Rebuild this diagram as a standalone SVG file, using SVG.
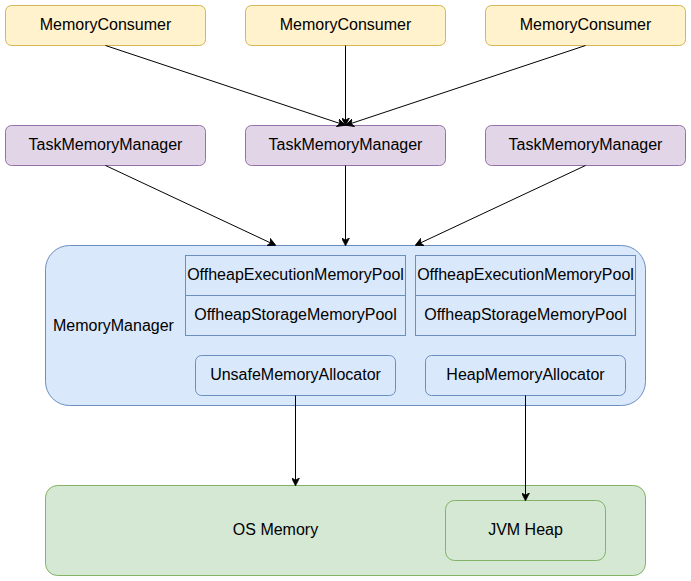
<svg xmlns="http://www.w3.org/2000/svg" width="691" height="581" viewBox="0 0 691 581">
  <style>
    text { font-family: "Liberation Sans", Arial, Helvetica, sans-serif; font-size: 16px; fill: #000; }
    .mid { text-anchor: middle; dominant-baseline: central; }
    .consumer { fill: #fff2cc; stroke: #d6b656; }
    .task { fill: #e1d5e7; stroke: #9673a6; }
    .blue { fill: #dae8fc; stroke: #6c8ebf; }
    .green { fill: #d5e8d4; stroke: #82b366; }
    .edge { fill: none; stroke: #000; stroke-width: 1; }
  </style>
  <defs>
    <marker id="arrow" viewBox="0 0 10 10" refX="9" refY="5" markerWidth="8" markerHeight="8" markerUnits="userSpaceOnUse" orient="auto">
      <path d="M0,0 L10,5 L0,10 L3,5 Z" fill="#000" stroke="#000" stroke-width="1"/>
    </marker>
  </defs>

  <rect width="691" height="581" fill="#fff"/>

  <!-- consumers -->
  <g id="consumer1"><rect class="consumer" x="5.5" y="5.5" width="200" height="40" rx="6"/><text class="mid" x="105.5" y="24.5">MemoryConsumer</text></g>
  <g id="consumer2"><rect class="consumer" x="245.5" y="5.5" width="200" height="40" rx="6"/><text class="mid" x="345.5" y="24.5">MemoryConsumer</text></g>
  <g id="consumer3"><rect class="consumer" x="485.5" y="5.5" width="200" height="40" rx="6"/><text class="mid" x="585.5" y="24.5">MemoryConsumer</text></g>

  <!-- task memory managers -->
  <g id="tmm1"><rect class="task" x="5.5" y="125.5" width="200" height="40" rx="6"/><text class="mid" x="105.5" y="144.5">TaskMemoryManager</text></g>
  <g id="tmm2"><rect class="task" x="245.5" y="125.5" width="200" height="40" rx="6"/><text class="mid" x="345.5" y="144.5">TaskMemoryManager</text></g>
  <g id="tmm3"><rect class="task" x="485.5" y="125.5" width="200" height="40" rx="6"/><text class="mid" x="585.5" y="144.5">TaskMemoryManager</text></g>

  <!-- memory manager container -->
  <g id="memoryManager">
    <rect class="blue" x="45.5" y="245.5" width="600" height="160" rx="24"/>
    <text x="53" y="330.5">MemoryManager</text>
  </g>
  <g id="poolsLeft">
    <rect class="blue" x="185.5" y="255.5" width="220" height="40"/>
    <text class="mid" x="295.5" y="274.5">OffheapExecutionMemoryPool</text>
    <rect class="blue" x="185.5" y="295.5" width="220" height="40"/>
    <text class="mid" x="295.5" y="314.5">OffheapStorageMemoryPool</text>
  </g>
  <g id="poolsRight">
    <rect class="blue" x="415.5" y="255.5" width="220" height="40"/>
    <text class="mid" x="525.5" y="274.5">OffheapExecutionMemoryPool</text>
    <rect class="blue" x="415.5" y="295.5" width="220" height="40"/>
    <text class="mid" x="525.5" y="314.5">OffheapStorageMemoryPool</text>
  </g>
  <g id="unsafeAllocator"><rect class="blue" x="195.5" y="355.5" width="200" height="40" rx="6"/><text class="mid" x="295.5" y="374.5">UnsafeMemoryAllocator</text></g>
  <g id="heapAllocator"><rect class="blue" x="425.5" y="355.5" width="200" height="40" rx="6"/><text class="mid" x="525.5" y="374.5">HeapMemoryAllocator</text></g>

  <!-- OS memory -->
  <g id="osMemory">
    <rect class="green" x="45.5" y="485.5" width="600" height="90" rx="12"/>
    <text class="mid" x="275.5" y="529.5">OS Memory</text>
  </g>
  <g id="jvmHeap"><rect class="green" x="445.5" y="500.5" width="160" height="60" rx="9"/><text class="mid" x="525.5" y="529.5">JVM Heap</text></g>

  <!-- connectors -->
  <g id="connectors">
    <line class="edge" x1="105.5" y1="45.5" x2="344.5" y2="125" marker-end="url(#arrow)"/>
    <line class="edge" x1="345.5" y1="45.5" x2="345.5" y2="125" marker-end="url(#arrow)"/>
    <line class="edge" x1="585.5" y1="45.5" x2="346.5" y2="125" marker-end="url(#arrow)"/>
    <line class="edge" x1="105.5" y1="165.5" x2="275" y2="245" marker-end="url(#arrow)"/>
    <line class="edge" x1="345.5" y1="165.5" x2="345.5" y2="245" marker-end="url(#arrow)"/>
    <line class="edge" x1="585.5" y1="165.5" x2="416" y2="245" marker-end="url(#arrow)"/>
    <line class="edge" x1="295.5" y1="395.5" x2="295.5" y2="485" marker-end="url(#arrow)"/>
    <line class="edge" x1="525.5" y1="395.5" x2="525.5" y2="500" marker-end="url(#arrow)"/>
  </g>
</svg>
